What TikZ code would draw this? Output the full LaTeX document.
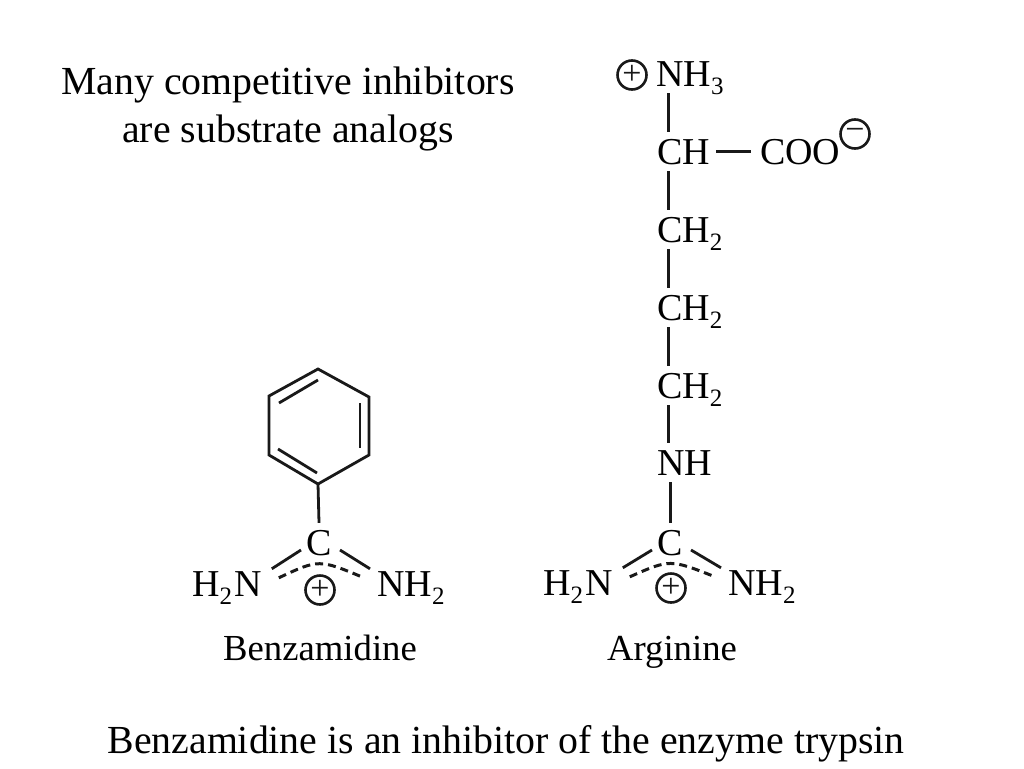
\documentclass[tikz,border=0pt]{standalone}
\usepackage{fontspec}
\setmainfont{Liberation Serif}
\newcommand{\fsz}[1]{\fontsize{#1}{#1}\selectfont}
\newcommand{\chemsub}[1]{\raisebox{-8pt}{\fsz{25}#1}}
\newcommand{\plusmark}{\raisebox{-2pt}{+}}
\tikzset{
  atom/.style={anchor=base west,inner xsep=0pt,inner ysep=7pt,text height=25pt,text depth=0pt,font=\fsz{38}},
  catom/.style={atom,anchor=base},
  name label/.style={anchor=base,inner sep=0pt,font=\fsz{36.7}},
  slide text/.style={anchor=base,inner sep=0pt,font=\fsz{39.8}},
  bondline/.style={line width=3pt,black!90},
  thinbond/.style={line width=2.8pt,black!90},
  dashbond/.style={line width=3pt,black!90,dash pattern=on 8pt off 5pt},
  charge/.style={circle,draw,line width=2.6pt,minimum size=29pt,inner sep=0pt,font=\fsz{34},black!90}
}
\newcommand{\amidine}[4]{% prefix, x of C, y of charge, y of side groups
  \node[catom] (#1c) at (#2,555) {C};
  \node[atom] (#1l) at (#2-127,#4) {H\chemsub{2}\kern2pt N};
  \node[atom] (#1r) at (#2+58,#4) {NH\chemsub{2}};
  \node[charge] (#1p) at (#2+1,#3) {\plusmark};
  \draw[thinbond] ([shift={(-18,-5)}]#1c.base) -- ([shift={(10,5)}]#1l.north east);
  \draw[thinbond] ([shift={(21,-5)}]#1c.base) -- ([shift={(-7,5)}]#1r.north west);
  \draw[dashbond] ([shift={(17,14)}]#1l.north east) .. controls ([shift={(0,4)}]#1c.base) .. ([shift={(-13,14)}]#1r.north west);
}
\begin{document}
\begin{tikzpicture}[x=1pt,y=-1pt]
\useasboundingbox (0,0) rectangle (1024,768);
\fill[white] (0,0) rectangle (1024,768);

% slide texts
\node[slide text] (title1) at (288,94) {Many competitive inhibitors};
\node[slide text] (title2) at (288,142) {are substrate analogs};
\node[slide text] (bottom) at (506,753) {Benzamidine is an inhibitor of the enzyme trypsin};

% arginine chain
\node[atom] (nh3) at (656,86) {NH\chemsub{3}};
\node[charge] (pos) at (632,75) {\plusmark};
\node[atom] (ch) at (657,164) {CH};
\node[atom] (coo) at (760,164) {COO};
\node[charge] (neg) at (855,134) {−};
\node[atom] (cha) at (657,242) {CH\chemsub{2}};
\node[atom] (chb) at (657,320) {CH\chemsub{2}};
\node[atom] (chc) at (657,398) {CH\chemsub{2}};
\node[atom] (nh) at (657,475) {NH};
\amidine{a}{670}{588}{595}

\draw[bondline] ([xshift=12]nh3.south west) -- ([xshift=11]ch.north west);
\draw[bondline] ([xshift=11]ch.south west) -- ([xshift=11]cha.north west);
\draw[bondline] ([xshift=11]cha.south west) -- ([xshift=11]chb.north west);
\draw[bondline] ([xshift=11]chb.south west) -- ([xshift=11]chc.north west);
\draw[bondline] ([xshift=11]chc.south west) -- ([xshift=11]nh.north west);
\draw[bondline] ([xshift=13]nh.south west) -- (ac.north);
\draw[bondline,shorten <=6pt,shorten >=9pt] (ch.east) -- (coo.west);
\node[name label] (arg) at (672,660) {Arginine};

% benzamidine
\coordinate (r1) at (318,369);
\coordinate (r2) at (369,397);
\coordinate (r3) at (369,455);
\coordinate (r4) at (318,484);
\coordinate (r5) at (269,455);
\coordinate (r6) at (269,396);
\draw[thinbond,line join=miter] (r1) -- (r2) -- (r3) -- (r4) -- (r5) -- (r6) -- cycle;
\draw[thinbond] (279,403) -- (318,380);
\draw[thinbond] (360,403) -- (360,448);
\draw[thinbond] (278,449) -- (317,473);
\amidine{b}{319}{590}{596}
\draw[thinbond] (r4) -- (bc.north);
\node[name label] (benz) at (320,660) {Benzamidine};
\end{tikzpicture}
\end{document}
